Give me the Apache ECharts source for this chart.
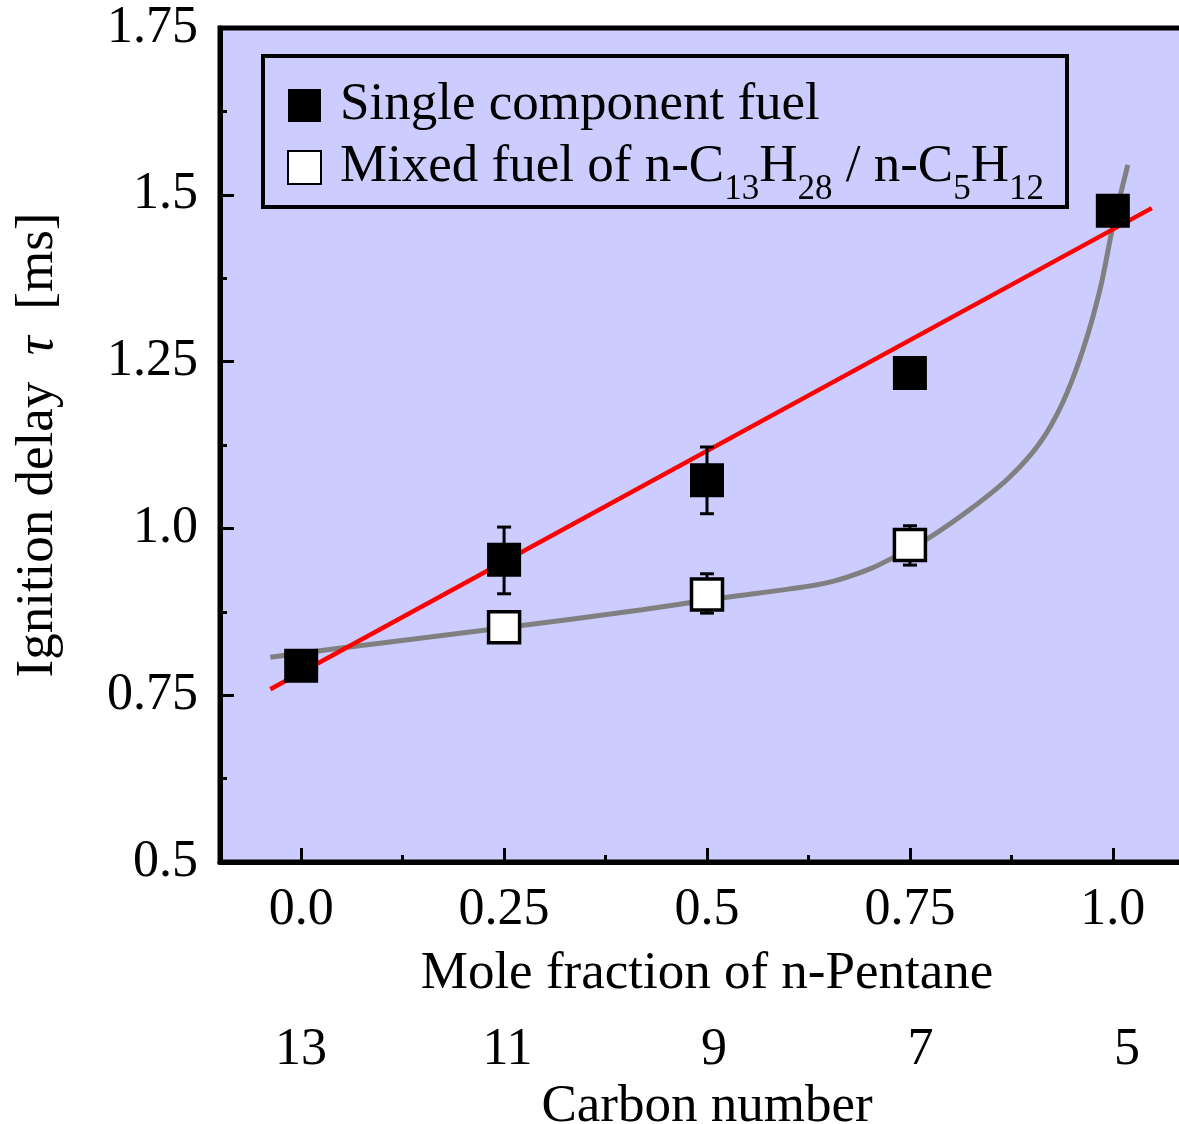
<!DOCTYPE html>
<html>
<head>
<meta charset="utf-8">
<script src="https://cdn.jsdelivr.net/npm/echarts@6/dist/echarts.min.js"></script>
<style>
  html, body { margin: 0; padding: 0; background: #fff; }
  #chart { width: 1179px; height: 1124px; }
</style>
</head>
<body>
<div id="chart"></div>
<script>
// --- data ---
var xTicks = [0, 0.25, 0.5, 0.75, 1.0];
var xTickLabels = ['0.0', '0.25', '0.5', '0.75', '1.0'];
var xMinorTicks = [0.125, 0.375, 0.625, 0.875];
var carbonTicks = [13, 11, 9, 7, 5];

var singleX = [0, 0.25, 0.5, 0.75, 1.0];
var singleY = [0.794, 0.953, 1.072, 1.233, 1.476];
var mixedX = [0.25, 0.5, 0.75];
var mixedY = [0.852, 0.901, 0.975];

var singleErrX = [0.25, 0.5];
var singleErrLow = [0.902, 1.022];
var singleErrHigh = [1.002, 1.122];
var mixedErrX = [0.5, 0.75];
var mixedErrLow = [0.873, 0.945];
var mixedErrHigh = [0.932, 1.004];

// linear fit (red)
var fitX = [-0.038, 1.048];
var fitY = [0.759, 1.480];

// gray trend curve through mixed fuel points
var trendX = [-0.038, 0.097, 0.25, 0.42, 0.52, 0.6, 0.65, 0.7, 0.732, 0.775, 0.828, 0.873, 0.910, 0.938, 0.963, 0.984, 1.0, 1.0185];
var trendY = [0.807, 0.828, 0.851, 0.878, 0.896, 0.909, 0.919, 0.939, 0.958, 0.987, 1.032, 1.077, 1.128, 1.188, 1.267, 1.357, 1.452, 1.545];

function zip(a, b, c) {
    return a.map(function (v, i) { return c ? [v, b[i], c[i]] : [v, b[i]]; });
}

var font = 'Liberation Serif';

function errorBars(params, api) {
    var x = api.value(0);
    var lo = api.coord([x, api.value(1)]);
    var hi = api.coord([x, api.value(2)]);
    var w = 7;
    var st = { stroke: '#000', lineWidth: 3 };
    return {
        type: 'group',
        children: [
            { type: 'line', shape: { x1: lo[0], y1: lo[1], x2: hi[0], y2: hi[1] }, style: st },
            { type: 'line', shape: { x1: lo[0] - w, y1: lo[1], x2: lo[0] + w, y2: lo[1] }, style: st },
            { type: 'line', shape: { x1: hi[0] - w, y1: hi[1], x2: hi[0] + w, y2: hi[1] }, style: st }
        ]
    };
}

var myChart = echarts.init(document.getElementById('chart'));
var option = {
    backgroundColor: '#fff',
    animation: false,
    textStyle: { fontFamily: font, color: '#000' },
    grid: {
        left: 220,
        top: 28,
        width: 974,
        height: 834,
        outerBoundsMode: 'none',
        containLabel: false,
        show: true,
        backgroundColor: '#ccccff',
        borderColor: '#000',
        borderWidth: 5
    },
    legend: {
        data: ['Single component fuel', 'Mixed fuel of n-C13H28 / n-C5H12'],
        orient: 'vertical',
        left: 287,
        top: 79,
        padding: 0,
        itemWidth: 33,
        itemHeight: 33,
        itemGap: -4,
        formatter: function (name) {
            if (name.indexOf('Mixed') === 0) {
                return '{t|Mixed fuel of n-C}{s|13}{t|H}{s|28}{t| / n-C}{s|5}{t|H}{s|12}';
            }
            return '{t|' + name + '}';
        },
        textStyle: {
            fontFamily: font,
            color: '#000',
            padding: [0, 0, 0, 14],
            rich: {
                t: { fontFamily: font, fontSize: 53, lineHeight: 72, color: '#000' },
                s: { fontFamily: font, fontSize: 35, lineHeight: 27, color: '#000', padding: [44, 0, 0, 0] }
            }
        }
    },
    graphic: [{
        type: 'rect',
        shape: { x: 263, y: 56, width: 804, height: 151 },
        style: { fill: 'none', stroke: '#000', lineWidth: 4 },
        z: 100
    }],
    xAxis: [{
        type: 'value',
        min: -0.1,
        max: 1.1,
        name: 'Mole fraction of n-Pentane',
        nameLocation: 'middle',
        nameGap: 86,
        nameTextStyle: { fontFamily: font, fontSize: 53, color: '#000' },
        axisLine: { show: true, onZero: false, lineStyle: { color: '#000', width: 5 } },
        axisTick: { inside: true, length: 14, lineStyle: { color: '#000', width: 3 }, customValues: xTicks },
        axisLabel: {
            margin: 22,
            fontFamily: font,
            fontSize: 52,
            color: '#000',
            customValues: xTicks,
            formatter: function (v) { return xTickLabels[xTicks.indexOf(v)]; }
        },
        splitLine: { show: false }
    }, {
        type: 'value',
        min: -0.1,
        max: 1.1,
        position: 'bottom',
        axisLine: { show: false },
        axisTick: { inside: true, length: 7, lineStyle: { color: '#000', width: 3 }, customValues: xMinorTicks },
        axisLabel: { show: false },
        splitLine: { show: false }
    }, {
        type: 'value',
        inverse: true,
        min: 4.351,
        max: 13.784,
        position: 'bottom',
        offset: 140,
        name: 'Carbon number',
        nameLocation: 'middle',
        nameGap: 76,
        nameTextStyle: { fontFamily: font, fontSize: 53, color: '#000' },
        axisLine: { show: false },
        axisTick: { show: false },
        axisLabel: {
            margin: 22,
            fontFamily: font,
            fontSize: 52,
            color: '#000',
            customValues: carbonTicks
        },
        splitLine: { show: false }
    }],
    yAxis: {
        type: 'value',
        min: 0.5,
        max: 1.75,
        interval: 0.25,
        name: 'Ignition delay  {i|τ}  [ms]',
        nameLocation: 'middle',
        nameGap: 155,
        nameTextStyle: {
            fontFamily: font,
            fontSize: 53,
            color: '#000',
            rich: { i: { fontFamily: font, fontSize: 53, fontStyle: 'italic', color: '#000' } }
        },
        axisLine: { show: true, onZero: false, lineStyle: { color: '#000', width: 5 } },
        axisTick: { inside: true, length: 14, lineStyle: { color: '#000', width: 3 } },
        minorTick: { show: true, splitNumber: 2, length: 7, lineStyle: { color: '#000', width: 3 } },
        axisLabel: {
            margin: 22,
            fontFamily: font,
            fontSize: 52,
            color: '#000',
            formatter: function (v) {
                var s = String(Math.round(v * 100) / 100);
                return s === '1' ? '1.0' : s;
            }
        },
        splitLine: { show: false }
    },
    series: [{
        name: 'trend',
        type: 'line',
        data: zip(trendX, trendY),
        smooth: 0.35,
        showSymbol: false,
        symbol: 'none',
        lineStyle: { color: '#808080', width: 5 },
        z: 2
    }, {
        name: 'fit',
        type: 'line',
        data: zip(fitX, fitY),
        showSymbol: false,
        symbol: 'none',
        lineStyle: { color: '#ff0000', width: 4.5 },
        z: 3
    }, {
        name: 'singleErr',
        type: 'custom',
        renderItem: errorBars,
        data: zip(singleErrX, singleErrLow, singleErrHigh),
        encode: { x: 0, y: [1, 2] },
        z: 4
    }, {
        name: 'mixedErr',
        type: 'custom',
        renderItem: errorBars,
        data: zip(mixedErrX, mixedErrLow, mixedErrHigh),
        encode: { x: 0, y: [1, 2] },
        z: 4
    }, {
        name: 'Single component fuel',
        type: 'scatter',
        symbol: 'rect',
        symbolSize: 34,
        data: zip(singleX, singleY),
        itemStyle: { color: '#000', opacity: 1 },
        z: 5
    }, {
        name: 'Mixed fuel of n-C13H28 / n-C5H12',
        type: 'scatter',
        symbol: 'rect',
        symbolSize: 31,
        data: zip(mixedX, mixedY),
        itemStyle: { color: '#fff', borderColor: '#000', borderWidth: 3.5, opacity: 1 },
        z: 5
    }]
};
myChart.setOption(option);
</script>
</body>
</html>
